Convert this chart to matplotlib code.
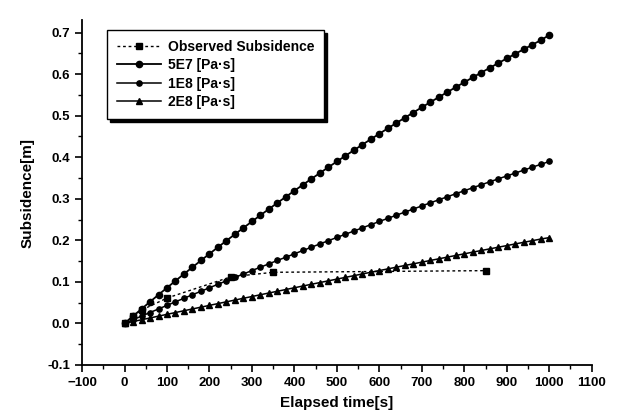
import numpy as np
import matplotlib
matplotlib.use('Agg')
from matplotlib import pyplot as plt
from matplotlib.ticker import MultipleLocator

plt.rcParams['font.family'] = ['Liberation Sans', 'DejaVu Sans']
plt.rcParams['font.weight'] = 'bold'

# model time steps (every 20 s)
time_model = list(range(0, 1001, 20))

visc_5e7 = [0.0000, 0.0175, 0.0348, 0.0520, 0.0690, 0.0858, 0.1025, 0.1190, 0.1353, 0.1515,
            0.1675, 0.1834, 0.1991, 0.2146, 0.2300, 0.2453, 0.2604, 0.2753, 0.2902, 0.3048,
            0.3193, 0.3337, 0.3479, 0.3619, 0.3759, 0.3897, 0.4033, 0.4168, 0.4302, 0.4434,
            0.4565, 0.4695, 0.4823, 0.4950, 0.5076, 0.5201, 0.5324, 0.5446, 0.5566, 0.5686,
            0.5804, 0.5921, 0.6037, 0.6151, 0.6265, 0.6377, 0.6488, 0.6598, 0.6707, 0.6815,
            0.6940]

visc_1e8 = [0.0000, 0.0088, 0.0175, 0.0262, 0.0348, 0.0434, 0.0520, 0.0605, 0.0690, 0.0774,
            0.0858, 0.0942, 0.1025, 0.1108, 0.1190, 0.1272, 0.1353, 0.1434, 0.1515, 0.1595,
            0.1675, 0.1755, 0.1834, 0.1913, 0.1991, 0.2069, 0.2146, 0.2223, 0.2300, 0.2377,
            0.2453, 0.2529, 0.2604, 0.2679, 0.2753, 0.2828, 0.2902, 0.2975, 0.3048, 0.3121,
            0.3193, 0.3265, 0.3337, 0.3408, 0.3479, 0.3549, 0.3619, 0.3689, 0.3759, 0.3828,
            0.3897]

visc_2e8 = [0.0000, 0.0044, 0.0088, 0.0131, 0.0175, 0.0218, 0.0262, 0.0305, 0.0348, 0.0391,
            0.0434, 0.0477, 0.0520, 0.0562, 0.0605, 0.0647, 0.0690, 0.0732, 0.0774, 0.0816,
            0.0858, 0.0900, 0.0942, 0.0983, 0.1025, 0.1066, 0.1108, 0.1149, 0.1190, 0.1231,
            0.1272, 0.1312, 0.1353, 0.1394, 0.1434, 0.1474, 0.1515, 0.1555, 0.1595, 0.1635,
            0.1675, 0.1715, 0.1755, 0.1794, 0.1834, 0.1873, 0.1913, 0.1952, 0.1991, 0.2030,
            0.2065]

# observed
time_obs = [0, 20, 40, 100, 250, 350, 850]
subs_obs = [0.0, 0.018, 0.032, 0.061, 0.112, 0.123, 0.127]

fig = plt.figure(figsize=(6.17, 4.19), dpi=100)
ax = fig.add_axes([0.133, 0.129, 0.826, 0.823])

ax.plot(time_obs, subs_obs, color='black', linestyle=(0, (2, 2)), linewidth=1.0,
        marker='s', markersize=4, label='Observed Subsidence')
ax.plot(time_model, visc_5e7, color='black', linewidth=1.3, marker='o', markersize=4.5,
        label='5E7 [Pa·s]')
ax.plot(time_model, visc_1e8, color='black', linewidth=1.1, marker='o', markersize=3.8,
        label='1E8 [Pa·s]')
ax.plot(time_model, visc_2e8, color='black', linewidth=1.1, marker='^', markersize=4.5,
        label='2E8 [Pa·s]')

ax.set_xlim(-100, 1100)
ax.set_ylim(-0.1, 0.73)
ax.xaxis.set_major_locator(MultipleLocator(100))
ax.xaxis.set_minor_locator(MultipleLocator(50))
ax.yaxis.set_minor_locator(MultipleLocator(0.05))
ax.set_yticks(np.arange(-0.1, 0.71, 0.1))
ax.set_yticklabels(['%.1f' % v for v in np.arange(-0.1, 0.71, 0.1)])

for s in ['top', 'right']:
    ax.spines[s].set_visible(False)
for s in ['left', 'bottom']:
    ax.spines[s].set_linewidth(1.3)

ax.tick_params(which='major', direction='out', length=5, width=1.2, labelsize=9.5)
ax.tick_params(which='minor', direction='out', length=3, width=1.0)

ax.set_xlabel('Elapsed time[s]', fontsize=11, fontweight='bold', labelpad=5)
ax.set_ylabel('Subsidence[m]', fontsize=11, fontweight='bold', labelpad=9)

leg = ax.legend(loc='upper left', bbox_to_anchor=(0.049, 0.971), borderaxespad=0,
                prop={'size': 10, 'weight': 'bold'}, frameon=True, fancybox=False,
                edgecolor='black', shadow={'color': 'black', 'alpha': 1.0},
                handlelength=3.2, handletextpad=0.5, labelspacing=0.32, borderpad=0.7)
leg.get_frame().set_linewidth(1.0)

fig.savefig('out.png', dpi=100)
